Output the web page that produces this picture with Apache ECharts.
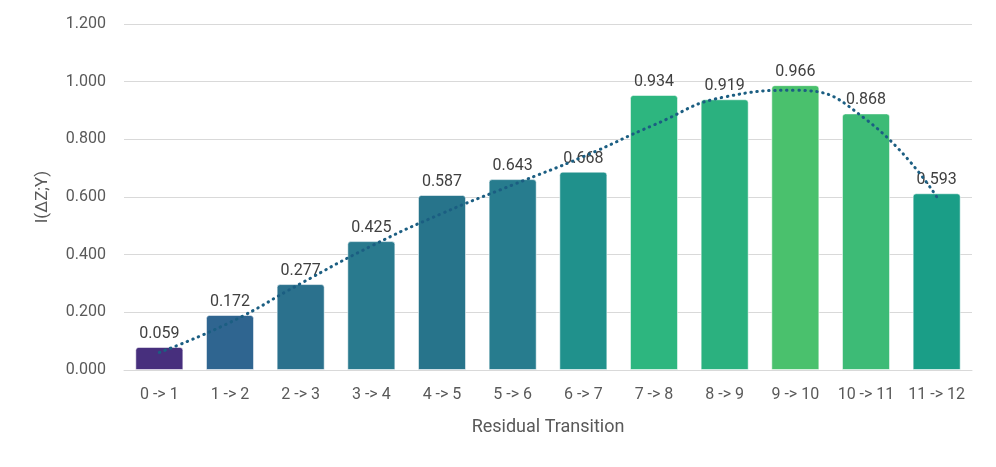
<!DOCTYPE html>
<html>
<head>
<meta charset="utf-8">
<script src="https://cdn.jsdelivr.net/npm/echarts@6/dist/echarts.min.js"></script>
<style>html,body{margin:0;padding:0;background:#fff;}#c{width:996px;height:467px;}</style>
</head>
<body>
<div id="c"></div>
<script>
const categories = ['0 -> 1','1 -> 2','2 -> 3','3 -> 4','4 -> 5','5 -> 6','6 -> 7','7 -> 8','8 -> 9','9 -> 10','10 -> 11','11 -> 12'];
const barHeights = [0.080, 0.191, 0.298, 0.447, 0.607, 0.662, 0.688, 0.954, 0.939, 0.988, 0.890, 0.613];
const labelTexts = ['0.059','0.172','0.277','0.425','0.587','0.643','0.668','0.934','0.919','0.966','0.868','0.593'];
const trendValues = [0.061, 0.165, 0.300, 0.430, 0.543, 0.642, 0.740, 0.850, 0.947, 0.970, 0.869, 0.601];
const barColors = ['#472f7d','#2f6590','#2b718d','#297a8e','#27748b','#277c8e','#20918c','#2db67f','#2bb17f','#4ac16d','#3dbb76','#1a9e87'];
const yTicks = ['0.000','0.200','0.400','0.600','0.800','1.000','1.200'];

const FONT = 'Roboto';
const chart = echarts.init(document.getElementById('c'), null, {renderer:'canvas'});
chart.setOption({
  animation:false,
  backgroundColor:'#fff',
  grid:{left:124, right:24, top:24, bottom:97},
  xAxis:{
    type:'category', data:categories,
    name:'Residual Transition', nameLocation:'middle', nameGap:48,
    nameTextStyle:{fontFamily:FONT, fontSize:18, color:'#595959'},
    axisLine:{lineStyle:{color:'#d9d9d9', width:1}},
    axisTick:{show:false},
    axisLabel:{fontFamily:FONT, fontSize:16, color:'#595959', margin:17, interval:0}
  },
  yAxis:{
    type:'value', min:0, max:1.2, interval:0.2,
    name:'I(ΔZ;Y)', nameLocation:'middle', nameGap:73, nameRotate:90,
    nameTextStyle:{fontFamily:FONT, fontSize:17, color:'#595959'},
    axisLine:{show:false}, axisTick:{show:false},
    axisLabel:{fontFamily:FONT, fontSize:16, color:'#595959', margin:18,
      formatter:(v)=>yTicks[Math.round(v/0.2)]},
    splitLine:{lineStyle:{color:'#d9d9d9', width:1}}
  },
  series:[
    {
      type:'bar', barCategoryGap:'32%',
      data:barHeights.map((v,i)=>({value:v, itemStyle:{color:barColors[i]}})),
      itemStyle:{borderRadius:[3,3,0,0], borderColor:'rgba(255,255,255,0.55)', borderWidth:1},
      label:{show:true, position:'top', distance:5, fontFamily:FONT, fontSize:16, color:'#404040',
        formatter:(p)=>labelTexts[p.dataIndex]},
      z:2
    },
    {
      type:'line', data:trendValues, smooth:true, symbol:'none',
      lineStyle:{color:'#1b5e82', width:3, type:[0.5,5.5], cap:'round'},
      z:3, silent:true
    }
  ]
});
</script>
</body>
</html>
